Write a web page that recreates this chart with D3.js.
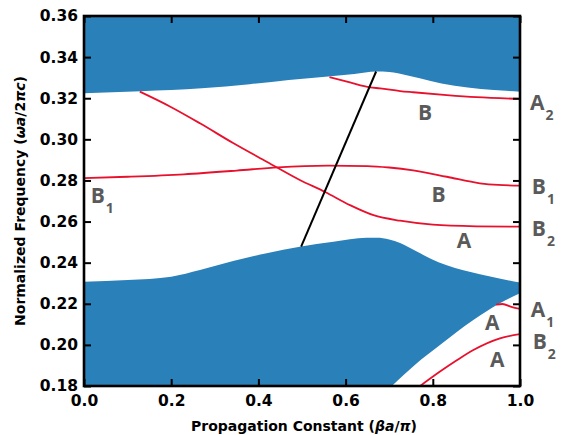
<!DOCTYPE html>
<html>
<head>
<meta charset="utf-8">
<script src="https://cdn.jsdelivr.net/npm/d3@7"></script>
<style>
  body { margin: 0; background: #fff; }
  svg { display: block; }
  .tick text { font-family: "DejaVu Sans", sans-serif; font-weight: bold; font-size: 15.5px; }
</style>
</head>
<body>
<div id="chart"></div>
<script>
// upper band (filled from its lower edge to the top)
var upperX  = [0, 0.13, 0.27, 0.38, 0.47, 0.56, 0.62, 0.67, 0.70, 0.74, 0.77, 0.82, 0.88, 0.94, 1.0];
var upperLo = [0.3224, 0.3234, 0.3248, 0.3268, 0.3289, 0.3306, 0.3318, 0.3330, 0.3328, 0.3312, 0.3297, 0.3272, 0.3252, 0.3240, 0.3232];

// lower band (filled from the bottom up to its upper edge)
var lowerX  = [0, 0.1, 0.2, 0.266, 0.342, 0.419, 0.495, 0.572, 0.648, 0.671, 0.70, 0.725, 0.76, 0.794, 0.832, 0.87, 0.908, 0.95, 1.0];
var lowerHi = [0.2307, 0.2316, 0.2332, 0.2364, 0.2408, 0.2446, 0.2478, 0.2502, 0.2521, 0.2521, 0.2513, 0.2496, 0.2458, 0.2420, 0.2387, 0.2363, 0.2344, 0.2324, 0.2303];

// white gap cut out of the lower band, lower right
var gapX = [0.706, 0.76, 0.8165, 0.855, 0.893, 0.954, 1.0];
var gapY = [0.18, 0.1905, 0.1999, 0.2063, 0.2121, 0.2202, 0.2251];

// red mode curves
var modeB2X = [0.128, 0.197, 0.266, 0.342, 0.419, 0.495, 0.553, 0.610, 0.664, 0.725, 0.80, 0.90, 1.0];
var modeB2Y = [0.3232, 0.3160, 0.3078, 0.2982, 0.2891, 0.2802, 0.2744, 0.2680, 0.2631, 0.2604, 0.2585, 0.2577, 0.2575];

var modeB1X = [0, 0.1, 0.229, 0.35, 0.445, 0.56, 0.65, 0.70, 0.755, 0.832, 0.908, 0.95, 1.0];
var modeB1Y = [0.2811, 0.2818, 0.2830, 0.2848, 0.2864, 0.2872, 0.2870, 0.2863, 0.2849, 0.2818, 0.2786, 0.2778, 0.2775];

var modeA2X = [0.563, 0.61, 0.656, 0.679, 0.725, 0.755, 0.832, 0.90, 1.0];
var modeA2Y = [0.3303, 0.3277, 0.3253, 0.3248, 0.3235, 0.3229, 0.3215, 0.3205, 0.3197];

var modeA1X = [0.945, 0.96, 0.98, 1.0];
var modeA1Y = [0.2196, 0.2199, 0.2185, 0.2175];

var modeLowX = [0.771, 0.8165, 0.855, 0.893, 0.954, 1.0];
var modeLowY = [0.18, 0.1870, 0.1925, 0.1975, 0.2032, 0.2052];

// black light line
var lightX = [0.498, 0.670];
var lightY = [0.2478, 0.3330];

var xTicks = [0, 0.2, 0.4, 0.6, 0.8, 1.0];
var yTicks = [0.18, 0.20, 0.22, 0.24, 0.26, 0.28, 0.30, 0.32, 0.34, 0.36];

// annotation letters: [main, subscript, x, y]
var labels = [
  ["B", "", 0.766, 0.3094],
  ["B", "", 0.797, 0.2697],
  ["A", "", 0.855, 0.2471],
  ["A", "", 0.920, 0.2072],
  ["A", "", 0.931, 0.1894],
  ["B", "1", 0.0154, 0.2689],
  ["A", "2", 1.023, 0.3143],
  ["B", "1", 1.027, 0.2734],
  ["B", "2", 1.027, 0.2530],
  ["A", "1", 1.0245, 0.2134],
  ["B", "2", 1.029, 0.1979]
];

var W = 563, H = 435;
var margin = {left: 84, right: 43, top: 16, bottom: 49};
var pw = W - margin.left - margin.right,
    ph = H - margin.top - margin.bottom;

var blue = "#2a80b9", red = "#e8112d", gray = "#5a5a5a";

var svg = d3.select("#chart").append("svg")
  .attr("width", W)
  .attr("height", H);

var x = d3.scaleLinear().domain([0, 1]).range([0, pw]);
var y = d3.scaleLinear().domain([0.18, 0.36]).range([ph, 0]);

svg.append("defs").append("clipPath").attr("id", "clip")
  .append("rect").attr("width", pw).attr("height", ph);

var g = svg.append("g")
  .attr("transform", "translate(" + margin.left + "," + margin.top + ")");

var plot = g.append("g").attr("clip-path", "url(#clip)");

function zip(xs, ys) {
  return xs.map(function (d, i) { return [d, ys[i]]; });
}

var curve = d3.curveMonotoneX;

// upper band
plot.append("path")
  .datum(zip(upperX, upperLo))
  .attr("fill", blue)
  .attr("d", d3.area().curve(curve)
    .x(function (d) { return x(d[0]); })
    .y0(function (d) { return y(d[1]); })
    .y1(y(0.37)));

// lower band
plot.append("path")
  .datum(zip(lowerX, lowerHi))
  .attr("fill", blue)
  .attr("d", d3.area().curve(curve)
    .x(function (d) { return x(d[0]); })
    .y0(y(0.17))
    .y1(function (d) { return y(d[1]); }));

// white gap
var gapPts = zip(gapX, gapY);
gapPts.push([1.05, gapY[gapY.length - 1] + 0.004]);
plot.append("path")
  .datum(gapPts)
  .attr("fill", "#fff")
  .attr("d", d3.area().curve(curve)
    .x(function (d) { return x(d[0]); })
    .y0(y(0.17))
    .y1(function (d) { return y(d[1]); }));

var line = d3.line().curve(curve)
  .x(function (d) { return x(d[0]); })
  .y(function (d) { return y(d[1]); });

[[modeB2X, modeB2Y], [modeB1X, modeB1Y], [modeA2X, modeA2Y], [modeA1X, modeA1Y], [modeLowX, modeLowY]]
  .forEach(function (m) {
    plot.append("path")
      .datum(zip(m[0], m[1]))
      .attr("fill", "none")
      .attr("stroke", red)
      .attr("stroke-width", 1.8)
      .attr("d", line);
  });

plot.append("path")
  .datum(zip(lightX, lightY))
  .attr("fill", "none")
  .attr("stroke", "#000")
  .attr("stroke-width", 2)
  .attr("d", d3.line()
    .x(function (d) { return x(d[0]); })
    .y(function (d) { return y(d[1]); }));

// axes with inward ticks on all sides
var fmt = d3.format(".2f");
function styleAxis(sel) {
  sel.select(".domain").remove();
  sel.selectAll(".tick line").attr("stroke", "#000").attr("stroke-width", 2);
  sel.selectAll(".tick text").attr("fill", "#000");
}

g.append("g")
  .call(d3.axisLeft(y).tickValues(yTicks).tickFormat(fmt).tickSizeInner(-7).tickSizeOuter(0).tickPadding(6))
  .call(styleAxis);

g.append("g")
  .attr("transform", "translate(" + pw + ",0)")
  .call(d3.axisRight(y).tickValues(yTicks).tickFormat("").tickSizeInner(-7).tickSizeOuter(0))
  .call(styleAxis);

g.append("g")
  .attr("transform", "translate(0," + ph + ")")
  .call(d3.axisBottom(x).tickValues(xTicks).tickFormat(d3.format(".1f")).tickSizeInner(-7).tickSizeOuter(0).tickPadding(9))
  .call(styleAxis);

g.append("g")
  .call(d3.axisTop(x).tickValues(xTicks).tickFormat("").tickSizeInner(-7).tickSizeOuter(0))
  .call(styleAxis);

g.append("rect")
  .attr("width", pw)
  .attr("height", ph)
  .attr("fill", "none")
  .attr("stroke", "#000")
  .attr("stroke-width", 2.6);

// axis titles
var xt = svg.append("text")
  .attr("x", margin.left + pw / 2 + 2)
  .attr("y", 431)
  .attr("text-anchor", "middle")
  .style("font-family", "DejaVu Sans, sans-serif")
  .style("font-weight", "bold")
  .style("font-size", "14px");
xt.append("tspan").text("Propagation Constant (");
xt.append("tspan").style("font-style", "italic").text("βa");
xt.append("tspan").text("/");
xt.append("tspan").style("font-style", "italic").text("π");
xt.append("tspan").text(")");

var yt = svg.append("text")
  .attr("transform", "translate(25," + (margin.top + ph / 2) + ") rotate(-90)")
  .attr("text-anchor", "middle")
  .style("font-family", "DejaVu Sans, sans-serif")
  .style("font-weight", "bold")
  .style("font-size", "14px");
yt.append("tspan").text("Normalized Frequency (");
yt.append("tspan").style("font-style", "italic").text("ωa");
yt.append("tspan").text("/2");
yt.append("tspan").style("font-style", "italic").text("πc");
yt.append("tspan").text(")");

// mode letters
labels.forEach(function (l) {
  var t = g.append("text")
    .attr("x", x(l[2]))
    .attr("y", y(l[3]))
    .attr("fill", gray)
    .style("font-family", "Open Sans, sans-serif")
    .style("font-weight", "bold")
    .style("font-size", "21px");
  t.append("tspan").text(l[0]);
  if (l[1]) {
    t.append("tspan")
      .attr("dx", 1)
      .attr("dy", 10)
      .style("font-size", "14px")
      .text(l[1]);
  }
});
</script>
</body>
</html>
